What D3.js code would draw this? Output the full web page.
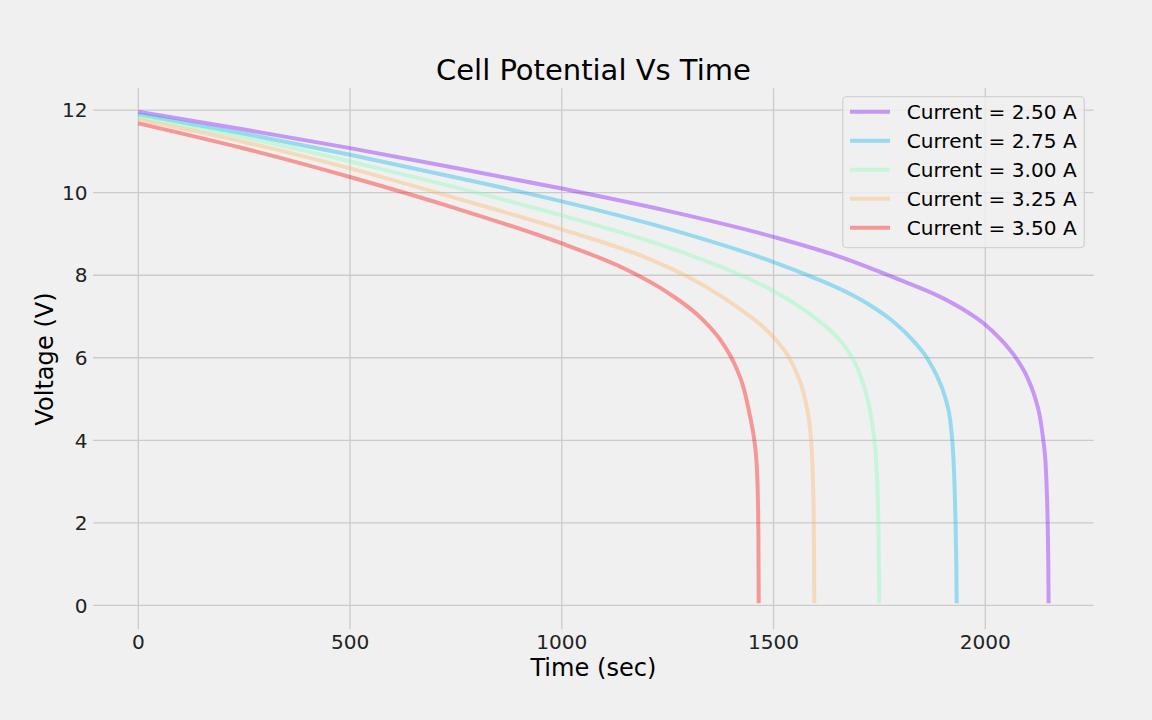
<!DOCTYPE html>
<html>
<head>
<meta charset="utf-8">
<script src="https://cdn.jsdelivr.net/npm/d3@7"></script>
<style>
  html, body { margin: 0; padding: 0; background: #f0f0f0; }
  svg { display: block; font-family: "DejaVu Sans", sans-serif; }
</style>
</head>
<body>
<svg id="chart" width="1152" height="720"></svg>
<script>
// ---- data ----
const currents = ["2.50", "2.75", "3.00", "3.25", "3.50"];
const seriesColors = ["#8000ff", "#00b4ec", "#80ffb4", "#ffb462", "#ff0000"];
const xTicks = [0, 500, 1000, 1500, 2000];
const yTicks = [0, 2, 4, 6, 8, 10, 12];

// [time (sec), voltage (V)]
const series250 = [[0,11.96],[250,11.53],[500,11.08],[750,10.60],[1000,10.10],[1250,9.56],[1500,8.93],[1650,8.47],[1800,7.88],[1895,7.47],[1940,7.22],[2000,6.80],[2035,6.46],[2074,5.97],[2098,5.55],[2117,5.05],[2129,4.57],[2137,4.0],[2142,3.5],[2145.5,2.7],[2147.5,1.9],[2148.8,1.0],[2149.5,0.05]];
const series275 = [[0,11.90],[250,11.43],[500,10.92],[750,10.37],[1000,9.79],[1250,9.13],[1500,8.32],[1600,7.92],[1680,7.55],[1727,7.28],[1775,6.94],[1822,6.50],[1862,6.0],[1887,5.53],[1905,5.05],[1917,4.49],[1922,4.0],[1925,3.52],[1928,2.7],[1930,1.9],[1931.5,1.0],[1932.5,0.05]];
const series300 = [[0,11.84],[250,11.34],[500,10.76],[750,10.13],[1000,9.45],[1250,8.68],[1400,8.10],[1500,7.62],[1600,6.95],[1650,6.50],[1680,6.1],[1702,5.65],[1720,5.08],[1730,4.6],[1737,4.1],[1742,3.55],[1745.5,2.8],[1747.5,2.0],[1748.8,1.0],[1749.5,0.05]];
const series325 = [[0,11.77],[250,11.23],[500,10.59],[750,9.87],[1000,9.11],[1200,8.42],[1300,7.95],[1375,7.50],[1425,7.15],[1475,6.75],[1510,6.38],[1535,6.03],[1555,5.62],[1570,5.18],[1580,4.72],[1587,4.2],[1591,3.6],[1593.5,2.9],[1595,2.0],[1595.8,1.0],[1596.2,0.05]];
const series350 = [[0,11.68],[250,11.07],[500,10.38],[750,9.62],[1000,8.77],[1150,8.15],[1250,7.58],[1330,6.95],[1380,6.35],[1410,5.80],[1430,5.25],[1440,4.8],[1448,4.4],[1454,4.05],[1458,3.7],[1461,3.25],[1463,2.6],[1464.2,1.7],[1465,0.05]];
const allSeries = [series250, series275, series300, series325, series350];

// ---- layout ----
const svg = d3.select("#chart");
const W = 1152, H = 720;
const plot = { left: 93, right: 1093.7, top: 88.3, bottom: 629.3 };

svg.append("rect").attr("width", W).attr("height", H).attr("fill", "#f0f0f0");

const x = d3.scaleLinear().domain([-107, 2256]).range([plot.left, plot.right]);
const y = d3.scaleLinear().domain([-0.58, 12.53]).range([plot.bottom, plot.top]);

// grid
const grid = svg.append("g");
grid.selectAll(".vg").data(xTicks).join("line")
  .attr("x1", d => x(d)).attr("x2", d => x(d))
  .attr("y1", plot.top).attr("y2", plot.bottom)
  .attr("stroke", "#cbcbcb").attr("stroke-width", 1.33);
grid.selectAll(".hg").data(yTicks).join("line")
  .attr("x1", plot.left).attr("x2", plot.right)
  .attr("y1", d => y(d)).attr("y2", d => y(d))
  .attr("stroke", "#cbcbcb").attr("stroke-width", 1.33);

// tick labels
const tickFont = 20.1;
svg.append("g").selectAll("text").data(xTicks).join("text")
  .attr("x", d => x(d)).attr("y", 649)
  .attr("text-anchor", "middle").attr("font-size", tickFont).attr("fill", "#222")
  .text(d => d);
svg.append("g").selectAll("text").data(yTicks).join("text")
  .attr("x", 87.5).attr("y", d => y(d)).attr("dy", "0.36em")
  .attr("text-anchor", "end").attr("font-size", tickFont).attr("fill", "#222")
  .text(d => d);

// lines
const line = d3.line().x(d => x(d[0])).y(d => y(d[1])).curve(d3.curveMonotoneX);
const g = svg.append("g");
allSeries.forEach((s, i) => {
  g.append("path").datum(s)
    .attr("d", line)
    .attr("fill", "none")
    .attr("stroke", seriesColors[i])
    .attr("stroke-opacity", 0.37)
    .attr("stroke-width", 4)
    .attr("stroke-linecap", "butt")
    .attr("stroke-linejoin", "round");
});

// title and axis labels
svg.append("text").attr("x", 593.4).attr("y", 80)
  .attr("text-anchor", "middle").attr("font-size", 29).attr("fill", "#000")
  .text("Cell Potential Vs Time");
svg.append("text").attr("x", 593.4).attr("y", 676)
  .attr("text-anchor", "middle").attr("font-size", 24.1).attr("fill", "#000")
  .text("Time (sec)");
svg.append("text")
  .attr("transform", "translate(52.6,359) rotate(-90)")
  .attr("text-anchor", "middle").attr("font-size", 24.1).attr("fill", "#000")
  .text("Voltage (V)");

// legend
const leg = svg.append("g");
leg.append("rect")
  .attr("x", 842.7).attr("y", 96.7).attr("width", 241.6).attr("height", 151)
  .attr("rx", 4).attr("ry", 4)
  .attr("fill", "#f0f0f0").attr("fill-opacity", 0.8)
  .attr("stroke", "#cccccc").attr("stroke-opacity", 0.8).attr("stroke-width", 1.33);
currents.forEach((c, i) => {
  const ly = 111.7 + 29 * i;
  leg.append("line")
    .attr("x1", 850).attr("x2", 890).attr("y1", ly).attr("y2", ly)
    .attr("stroke", seriesColors[i]).attr("stroke-opacity", 0.37)
    .attr("stroke-width", 4);
  leg.append("text")
    .attr("x", 906.7).attr("y", ly).attr("dy", "0.36em")
    .attr("font-size", tickFont).attr("fill", "#000")
    .text("Current = " + c + " A");
});
</script>
</body>
</html>
